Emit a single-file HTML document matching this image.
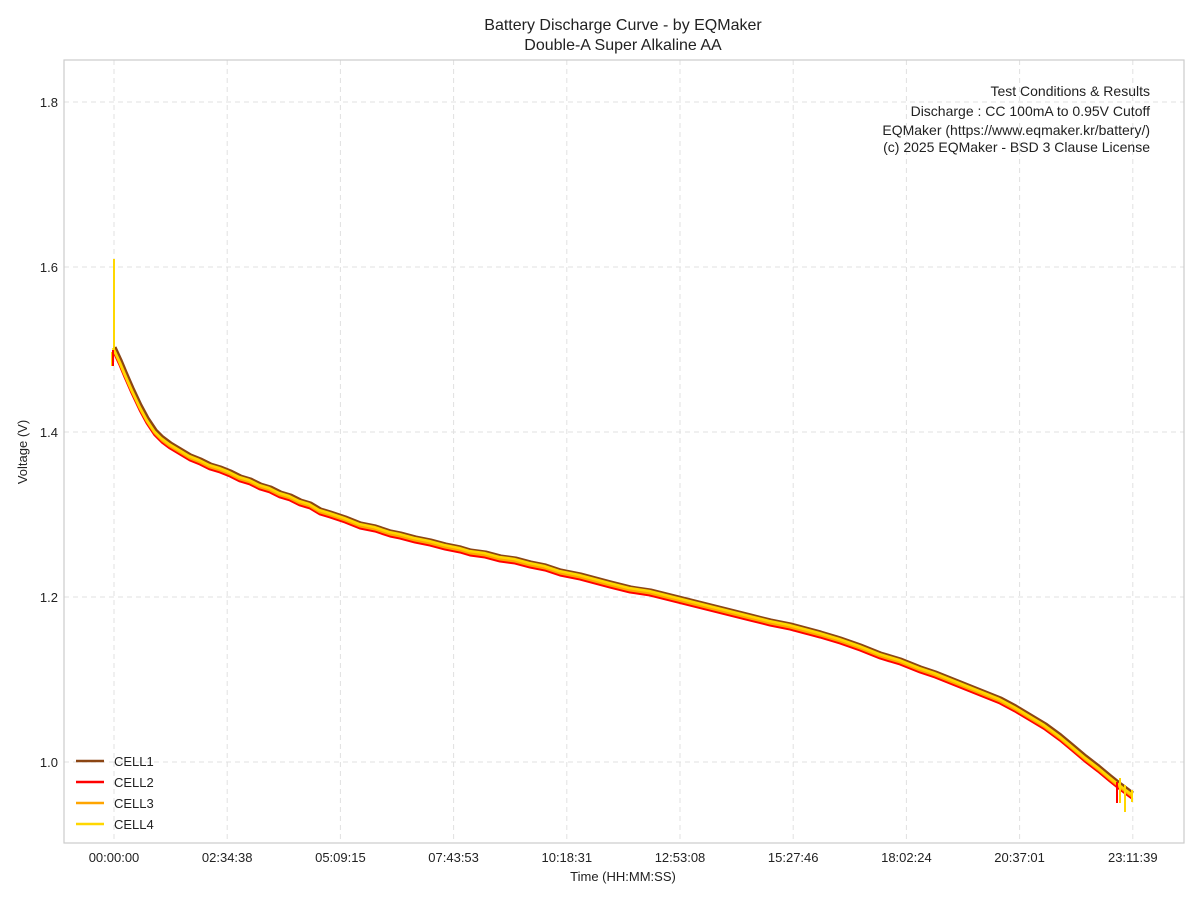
<!DOCTYPE html>
<html><head><meta charset="utf-8"><style>
body{margin:0;background:#fff;}
svg text{font-family:"Liberation Sans","DejaVu Sans",sans-serif;fill:#222;}
</style></head><body>
<svg width="1200" height="900" xmlns="http://www.w3.org/2000/svg">
<defs>
<path id="c" d="M114,349 L120,362 L125,374 L132,390 L140,407 L147,420 L155,432 L162,439 L170,445 L180,451 L190,457 L200,461 L210,466 L220,469 L230,473 L240,478 L250,481 L260,486 L270,489 L280,494 L290,497 L300,502 L310,505 L320,511 L330,514 L345,519 L360,525 L375,528 L390,533 L400,535 L415,539 L430,542 L445,546 L460,549 L470,552 L485,554 L500,558 L515,560 L530,564 L545,567 L560,572 L580,576 L595,580 L610,584 L630,589 L650,592 L670,597 L690,602 L710,607 L730,612 L750,617 L770,622 L790,626 L805,630 L820,634 L840,640 L860,647 L880,655 L900,661 L920,669 L935,674 L950,680 L965,686 L980,692 L1000,700 L1015,708 L1030,717 L1045,726 L1060,737 L1072,747 L1085,758 L1098,768 L1110,778 L1120,786 L1132,795"/>
</defs>
<rect width="1200" height="900" fill="#fff"/>
<g stroke="#e0e0e0" stroke-dasharray="5,4" stroke-width="1">
<line x1="114" y1="60" x2="114" y2="843"/><line x1="227.2" y1="60" x2="227.2" y2="843"/><line x1="340.4" y1="60" x2="340.4" y2="843"/><line x1="453.6" y1="60" x2="453.6" y2="843"/><line x1="566.8" y1="60" x2="566.8" y2="843"/><line x1="680" y1="60" x2="680" y2="843"/><line x1="793.2" y1="60" x2="793.2" y2="843"/><line x1="906.4" y1="60" x2="906.4" y2="843"/><line x1="1019.6" y1="60" x2="1019.6" y2="843"/><line x1="1132.8" y1="60" x2="1132.8" y2="843"/>
<line x1="64" y1="102" x2="1184" y2="102"/><line x1="64" y1="267" x2="1184" y2="267"/><line x1="64" y1="432" x2="1184" y2="432"/><line x1="64" y1="597" x2="1184" y2="597"/><line x1="64" y1="762" x2="1184" y2="762"/>
</g>
<rect x="64" y="60" width="1120" height="783" fill="none" stroke="#ccc" stroke-width="1.2"/>
<g font-size="13" text-anchor="middle">
<text x="114" y="862">00:00:00</text><text x="227.2" y="862">02:34:38</text><text x="340.4" y="862">05:09:15</text><text x="453.6" y="862">07:43:53</text><text x="566.8" y="862">10:18:31</text><text x="680" y="862">12:53:08</text><text x="793.2" y="862">15:27:46</text><text x="906.4" y="862">18:02:24</text><text x="1019.6" y="862">20:37:01</text><text x="1132.8" y="862">23:11:39</text>
</g>
<g font-size="13" text-anchor="end">
<text x="58" y="107">1.8</text><text x="58" y="272">1.6</text><text x="58" y="437">1.4</text><text x="58" y="602">1.2</text><text x="58" y="767">1.0</text>
</g>
<g fill="none" stroke-width="3" stroke-linejoin="round">
<use href="#c" stroke="#8B4513" transform="translate(1,-2)"/>
<use href="#c" stroke="#FF0000" transform="translate(0,3)"/>
<use href="#c" stroke="#FFA500" transform="translate(0,1)"/>
<use href="#c" stroke="#FFD700" transform="translate(-1,-1)" stroke-width="2.6"/>
<path d="M114,259 L114,350 M112,352 L112,366 M1120,778 L1120,803 M1125,785 L1125,812 M1132,790 L1132,802" stroke="#FFD700" stroke-width="2"/>
<path d="M113,350 L113,366 M1117,782 L1117,803" stroke="#FF0000" stroke-width="2"/>
</g>
<text x="623" y="30" font-size="16" text-anchor="middle">Battery Discharge Curve - by EQMaker</text>
<text x="623" y="50" font-size="16" text-anchor="middle">Double-A Super Alkaline AA</text>
<text x="623" y="881" font-size="13" text-anchor="middle">Time (HH:MM:SS)</text>
<text transform="translate(27,452) rotate(-90)" font-size="13" text-anchor="middle">Voltage (V)</text>
<g font-size="14" text-anchor="end">
<text x="1150" y="96">Test Conditions &amp; Results</text>
<text x="1150" y="116">Discharge : CC 100mA to 0.95V Cutoff</text>
<text x="1150" y="135">EQMaker (https://www.eqmaker.kr/battery/)</text>
<text x="1150" y="152">(c) 2025 EQMaker - BSD 3 Clause License</text>
</g>
<g font-size="13">
<line x1="76" y1="761" x2="104" y2="761" stroke="#8B4513" stroke-width="2.5"/><text x="114" y="766">CELL1</text>
<line x1="76" y1="782" x2="104" y2="782" stroke="#FF0000" stroke-width="2.5"/><text x="114" y="787">CELL2</text>
<line x1="76" y1="803" x2="104" y2="803" stroke="#FFA500" stroke-width="2.5"/><text x="114" y="808">CELL3</text>
<line x1="76" y1="824" x2="104" y2="824" stroke="#FFD700" stroke-width="2.5"/><text x="114" y="829">CELL4</text>
</g>
</svg>
</body></html>
